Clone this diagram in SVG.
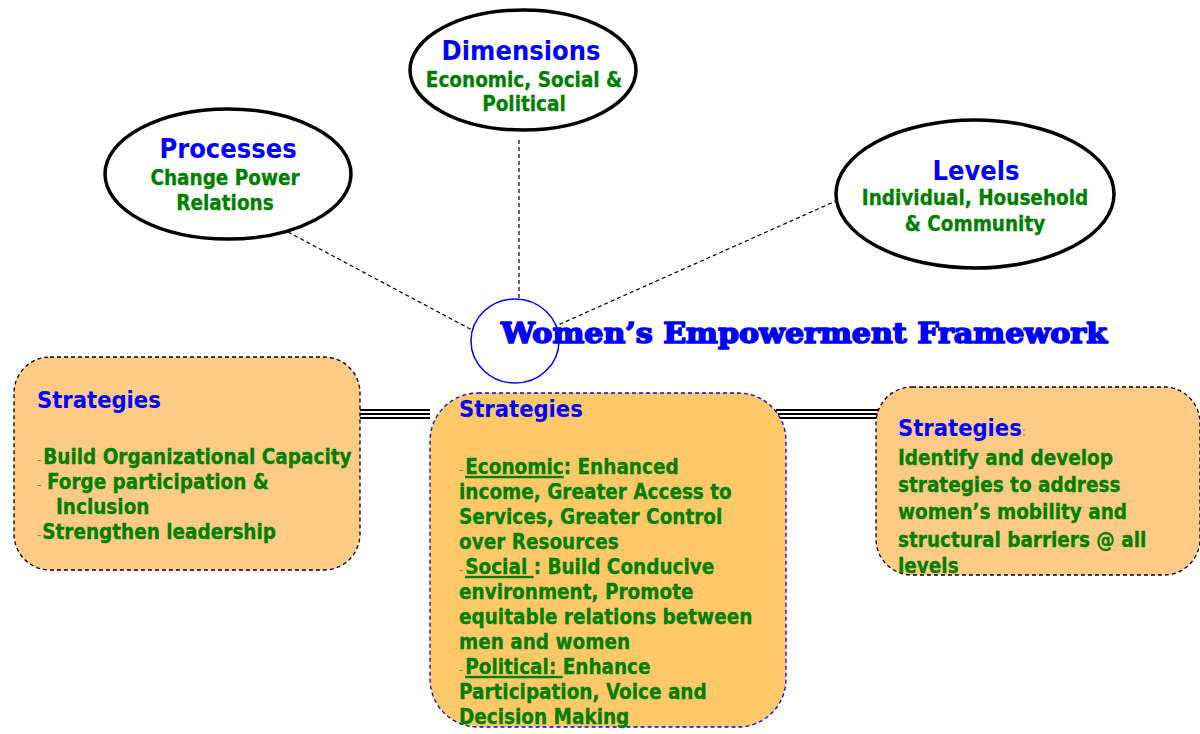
<svg xmlns="http://www.w3.org/2000/svg" width="1200" height="734" viewBox="0 0 1200 734">
  <style>
    .oval { fill: #ffffff; stroke: #000000; stroke-width: 3.5; }
    .link { stroke: #000000; stroke-width: 1.2; stroke-dasharray: 4 3; fill: none; }
    .box { fill: #fdcb86; stroke: #000000; stroke-width: 1.3; stroke-dasharray: 4 3; }
    .boxc { fill: #fdc968; stroke: #0000ff; stroke-width: 1.3; stroke-dasharray: 4 3; }
    .t { font-family: "DejaVu Sans", "Liberation Sans", sans-serif; font-weight: bold; font-stretch: condensed; }
    .head { fill: #0000ff; font-size: 27px; }
    .sh { fill: #0000ff; font-size: 23.5px; }
    .g { fill: #007f00; font-size: 20.5px; stroke: #007f00; stroke-width: 0.3; }
    .d { font-weight: normal; font-size: 13px; fill: #5a9a3a; stroke: none; }
    .u { text-decoration: underline; }
    .title { font-family: "DejaVu Serif", "Liberation Serif", serif; font-weight: bold; font-size: 27px; fill: #0000ff; stroke: #0000ff; stroke-width: 1.6; stroke-linejoin: round; }
  </style>

  <!-- dashed spokes -->
  <g id="connectors">
    <line class="link" x1="288" y1="232" x2="472" y2="330"/>
    <line class="link" x1="519" y1="140" x2="519" y2="298"/>
    <line class="link" x1="838" y1="200" x2="558" y2="325"/>
    <!-- triple rules between the strategy boxes -->
    <g stroke="#000000" stroke-width="2.2">
      <line x1="358" y1="410" x2="430" y2="410"/>
      <line x1="358" y1="414" x2="430" y2="414"/>
      <line x1="358" y1="418" x2="430" y2="418"/>
      <line x1="776" y1="410" x2="878" y2="410"/>
      <line x1="776" y1="414" x2="878" y2="414"/>
      <line x1="776" y1="418" x2="878" y2="418"/>
    </g>
  </g>

  <g id="processes">
    <ellipse class="oval" cx="228" cy="174" rx="123" ry="65"/>
    <text class="t head" x="228" y="158" text-anchor="middle">Processes</text>
    <text class="t g" x="225" y="185" text-anchor="middle">Change Power</text>
    <text class="t g" x="225" y="210" text-anchor="middle">Relations</text>
  </g>

  <g id="dimensions">
    <ellipse class="oval" cx="523" cy="70" rx="113" ry="60"/>
    <text class="t head" x="521" y="60" text-anchor="middle">Dimensions</text>
    <text class="t g" x="524" y="87" text-anchor="middle">Economic, Social &amp;</text>
    <text class="t g" x="524" y="111" text-anchor="middle">Political</text>
  </g>

  <g id="levels">
    <ellipse class="oval" cx="975" cy="194" rx="139" ry="74"/>
    <text class="t head" x="976" y="180" text-anchor="middle">Levels</text>
    <text class="t g" x="975" y="205" text-anchor="middle">Individual, Household</text>
    <text class="t g" x="975" y="231" text-anchor="middle">&amp; Community</text>
  </g>

  <g id="hub">
    <ellipse cx="515" cy="341" rx="44" ry="42" fill="none" stroke="#0000ff" stroke-width="1.5"/>
    <text class="title" x="501" y="343" textLength="606" lengthAdjust="spacingAndGlyphs">Women’s Empowerment Framework</text>
  </g>

  <g id="strategies-left">
    <rect class="box" x="14" y="357" width="346" height="213" rx="36"/>
    <text class="t sh" x="37" y="408">Strategies</text>
    <text class="t g" x="37" y="464"><tspan class="d">-</tspan><tspan dx="2">Build Organizational Capacity</tspan></text>
    <text class="t g" x="37" y="489" xml:space="preserve"><tspan class="d">- </tspan><tspan dx="2">Forge participation &amp;</tspan></text>
    <text class="t g" x="56" y="514">Inclusion</text>
    <text class="t g" x="37" y="539"><tspan class="d">-</tspan><tspan dx="1">Strengthen leadership</tspan></text>
  </g>

  <g id="strategies-center">
    <rect class="boxc" x="430" y="393" width="356" height="334" rx="48"/>
    <text class="t sh" x="459" y="417">Strategies</text>
    <text class="t g" x="459" y="474"><tspan class="d">-</tspan><tspan class="u" dx="2">Economic</tspan>: Enhanced</text>
    <text class="t g" x="459" y="499">income, Greater Access to</text>
    <text class="t g" x="459" y="524">Services, Greater Control</text>
    <text class="t g" x="459" y="549">over Resources</text>
    <text class="t g" x="459" y="574"><tspan class="d">-</tspan><tspan class="u" dx="2">Social&#160;</tspan>: Build Conducive</text>
    <text class="t g" x="459" y="599">environment, Promote</text>
    <text class="t g" x="459" y="624">equitable relations between</text>
    <text class="t g" x="459" y="649">men and women</text>
    <text class="t g" x="459" y="674"><tspan class="d">-</tspan><tspan class="u" dx="2">Political:&#160;</tspan>Enhance</text>
    <text class="t g" x="459" y="699">Participation, Voice and</text>
    <text class="t g" x="459" y="724">Decision Making</text>
  </g>

  <g id="strategies-right">
    <rect class="box" x="876" y="387" width="324" height="188" rx="36"/>
    <text class="t sh" x="898" y="436">Strategies<tspan class="d" font-size="9" fill="#000000">:</tspan></text>
    <text class="t g" x="898" y="465">Identify and develop</text>
    <text class="t g" x="898" y="492">strategies to address</text>
    <text class="t g" x="898" y="519">women’s mobility and</text>
    <text class="t g" x="898" y="547">structural barriers @ all</text>
    <text class="t g" x="898" y="573">levels</text>
  </g>
</svg>
